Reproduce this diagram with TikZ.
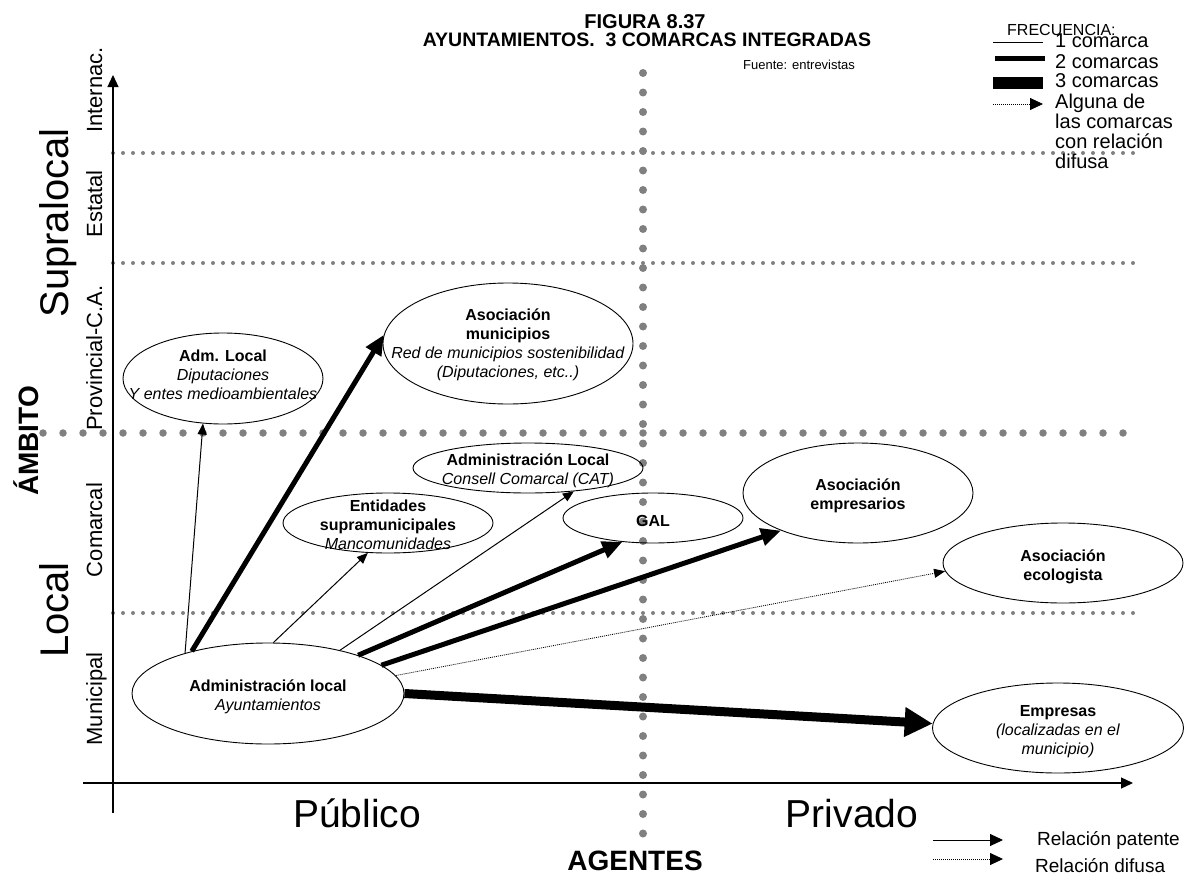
\documentclass[tikz,border=0pt]{standalone}
\usepackage{fontspec}
\setmainfont{Liberation Sans}
\usetikzlibrary{shapes.geometric,arrows.meta}
\definecolor{dotgray}{RGB}{128,128,128}
\newcommand{\fs}[2]{\fontsize{#1}{#2}\selectfont}
\begin{document}
\begin{tikzpicture}[x=1pt,y=-1pt,
  ell/.style={draw, ellipse, line width=0.9pt, inner sep=0pt},
  txt/.style={align=center, font=\fs{16}{19}, inner sep=0pt},
  smalldots/.style={draw=dotgray, line width=4pt, line cap=round, dash pattern=on 0pt off 10pt},
  bigdots/.style={draw=dotgray, line width=7.5pt, line cap=round, dash pattern=on 0pt off 20pt},
  vdots/.style={draw=dotgray, line width=8pt, line cap=round, dash pattern=on 0pt off 19.5pt},
  one/.style={line width=1pt, -{Triangle[length=11pt,width=9pt]}},
  two/.style={line width=5pt, -{Triangle[length=20pt,width=17pt]}},
  three/.style={line width=9pt, -{Triangle[length=28pt,width=28pt]}},
  diffuse/.style={line width=0.8pt, dash pattern=on 1pt off 1pt, -{Triangle[length=11pt,width=9pt]}},
  axis/.style={line width=1.2pt, -{Triangle[length=12pt,width=11pt]}},
  axlab/.style={rotate=90, anchor=base, font=\fs{22}{26}},
  biglab/.style={rotate=90, anchor=base, font=\fs{40}{46}},
  leg/.style={anchor=base west, inner sep=0pt},
  legk/.style={anchor=base west, inner sep=0pt, font=\fs{20}{20}}
]
\useasboundingbox (0,0) rectangle (1194,875);

% grid of dotted lines
\coordinate (g1a) at (113,153); \coordinate (g1b) at (1134,153);
\coordinate (g2a) at (113,263); \coordinate (g2b) at (1134,263);
\coordinate (g3a) at (43,433);  \coordinate (g3b) at (1124,433);
\coordinate (g4a) at (113,613); \coordinate (g4b) at (1134,613);
\coordinate (gva) at (643,73);  \coordinate (gvb) at (643,834);
\path[smalldots] (g1a) -- (g1b);
\path[smalldots] (g2a) -- (g2b);
\path[smalldots] (g4a) -- (g4b);
\path[bigdots] (g3a) -- (g3b);
\path[vdots] (gva) -- (gvb);

% axes
\coordinate (vax0) at (113,813); \coordinate (vax1) at (113,75);
\coordinate (hax0) at (83,783);  \coordinate (hax1) at (1133,783);
\draw[axis] (vax0) -- (vax1);
\draw[axis] (hax0) -- (hax1);

% title
\node[font=\fs{20}{22}\bfseries, anchor=base] (t1) at (645,29) {FIGURA 8.37};
\node[font=\fs{19.5}{22}\bfseries, anchor=base] (t2) at (647,47) {AYUNTAMIENTOS.~~3 COMARCAS INTEGRADAS};
\node[font=\fs{13}{15}, anchor=base west, inner sep=0pt] (src) at (743,70) {Fuente: entrevistas};

% axis labels
\node[axlab] (lint) at (102,90) {Internac.};
\node[axlab] (lest) at (102,204) {Estatal};
\node[axlab] (lprov) at (102,358) {Provincial-C.A.};
\node[axlab] (lcom) at (102,530) {Comarcal};
\node[axlab] (lmun) at (102,699) {Municipal};
\node[biglab] (lsup) at (68,223) {Supralocal};
\node[biglab] (lloc) at (68,610) {Local};
\node[rotate=90, anchor=base, font=\fs{28}{32}\bfseries] (lamb) at (38,441) {ÁMBITO};
\node[anchor=base, font=\fs{39}{44}] (lpub) at (357,827) {Público};
\node[anchor=base, font=\fs{39}{44}] (lpriv) at (852,827) {Privado};
\node[anchor=base, font=\fs{28}{32}\bfseries] (lage) at (635,870) {AGENTES};

% ellipses
\node[ell, minimum width=200pt, minimum height=91pt] (adm) at (223,378.5) {};
\node[txt] (admT) at (223,375) {\textbf{Adm. Local}\\\textit{Diputaciones}\\\textit{Y entes medioambientales}};

\node[ell, minimum width=250pt, minimum height=121pt] (amun) at (508,343.5) {};
\node[txt] (amunT) at (508,345) {\textbf{Asociación}\\\textbf{municipios}\\\textit{Red de municipios sostenibilidad}\\\textit{(Diputaciones, etc..)}};

\node[ell, minimum width=230pt, minimum height=50pt] (cat) at (528,468) {};
\node[txt] (catT) at (528,471) {\textbf{Administración Local}\\\textit{Consell Comarcal (CAT)}};

\node[ell, minimum width=210pt, minimum height=60pt] (ent) at (388,523) {};
\node[txt] (entT) at (388,525) {\textbf{Entidades}\\\textbf{supramunicipales}\\\textit{Mancomunidades}};

\node[ell, minimum width=180pt, minimum height=50pt] (gal) at (653,518) {};
\node[txt] (galT) at (653,521) {\textbf{GAL}};

\node[ell, minimum width=230pt, minimum height=100pt] (emp) at (858,493) {};
\node[txt] (empT) at (858,496) {\textbf{Asociación}\\\textbf{empresarios}};

\node[ell, minimum width=240pt, minimum height=80pt] (eco) at (1063,563) {};
\node[txt] (ecoT) at (1063,567) {\textbf{Asociación}\\\textbf{ecologista}};

\node[ell, minimum width=272pt, minimum height=101pt] (ay) at (268,693.5) {};
\node[txt] (ayT) at (268,697) {\textbf{Administración local}\\\textit{Ayuntamientos}};

\node[ell, minimum width=251pt, minimum height=90pt] (empr) at (1058,728) {};
\node[txt] (emprT) at (1058,732) {\textbf{Empresas}\\\textit{(localizadas en el}\\\textit{municipio)}};

% connectors
\draw[one] (ay.154.5) -- (adm.246);
\draw[two] (ay.151.3) -- (amun.176);
\draw[one] (ay.84.3) -- (ent.236);
\draw[one] (ay.31.9) -- (cat.333);
\draw[two] (ay.23.1) -- (gal.218);
\draw[two] (ay.14.9) -- (emp.206.8);
\draw[diffuse] (ay.8.6) -- (eco.184.8);
\draw[three] (ay.0) -- (empr.178);

% legend top right
\node[leg, font=\fs{16}{18}] (freq) at (1007,36) {FRECUENCIA:};
\node[legk] (k1t) at (1055,48) {1 comarca};
\node[legk] (k2t) at (1055,68) {2 comarcas};
\node[legk] (k3t) at (1055,88) {3 comarcas};
\node[legk] (k4t) at (1055,108) {Alguna de};
\node[legk] (k5t) at (1055,128) {las comarcas};
\node[legk] (k6t) at (1055,148) {con relación};
\node[legk] (k7t) at (1055,168) {difusa};
\coordinate (k1a) at (993,43);  \coordinate (k1b) at (1043,43);
\coordinate (k2a) at (995,59);  \coordinate (k2b) at (1045,59);
\coordinate (k3a) at (993,83);  \coordinate (k3b) at (1043,83);
\coordinate (k4a) at (993,104); \coordinate (k4b) at (1043,104);
\draw[line width=1pt] (k1a) -- (k1b);
\draw[line width=5pt] (k2a) -- (k2b);
\draw[line width=11pt] (k3a) -- (k3b);
\draw[line width=0.8pt, dash pattern=on 1pt off 1pt, -{Triangle[length=13pt,width=12pt]}] (k4a) -- (k4b);

% legend bottom right
\coordinate (r1a) at (933,840); \coordinate (r1b) at (1003,840);
\coordinate (r2a) at (933,859); \coordinate (r2b) at (1003,859);
\draw[line width=1pt, -{Triangle[length=13pt,width=12pt]}] (r1a) -- (r1b);
\draw[line width=0.8pt, dash pattern=on 1pt off 1pt, -{Triangle[length=13pt,width=12pt]}] (r2a) -- (r2b);
\node[leg, font=\fs{19}{21}] (rpat) at (1037,845) {Relación patente};
\node[leg, font=\fs{19}{21}] (rdif) at (1035,872) {Relación difusa};
\end{tikzpicture}
\end{document}
